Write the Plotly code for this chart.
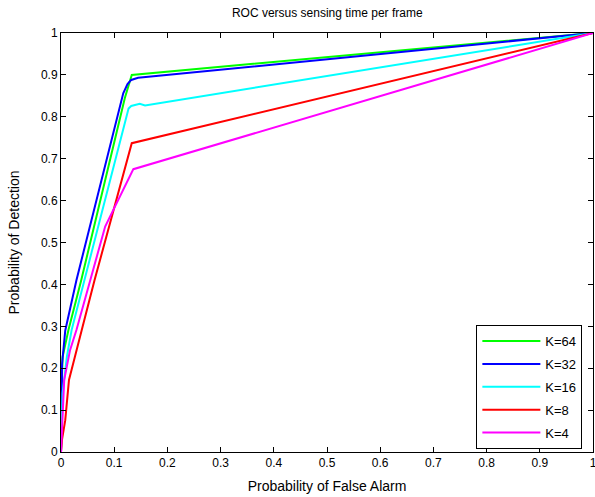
import plotly.graph_objects as go

labels = ["K=64", "K=32", "K=16", "K=8", "K=4"]
colors = ["#00ff00", "#0000ff", "#00ffff", "#ff0000", "#ff00ff"]

pf_k64 = [0, 0.001, 0.003, 0.014, 0.038, 0.120, 0.133, 1.0]
pd_k64 = [0, 0.15, 0.227, 0.291, 0.41, 0.845, 0.900, 1.0]

pf_k32 = [0, 0.001, 0.002, 0.008, 0.029, 0.117, 0.125, 0.132, 0.145, 1.0]
pd_k32 = [0, 0.13, 0.21, 0.29, 0.41, 0.856, 0.878, 0.888, 0.893, 1.0]

pf_k16 = [0, 0.003, 0.011, 0.020, 0.044, 0.127, 0.132, 0.148, 0.158, 1.0]
pd_k16 = [0, 0.14, 0.227, 0.291, 0.41, 0.820, 0.826, 0.831, 0.827, 1.0]

pf_k8 = [0, 0.002, 0.008, 0.015, 0.039, 0.063, 0.133, 1.0]
pd_k8 = [0, 0.03, 0.076, 0.172, 0.291, 0.41, 0.737, 1.0]

pf_k4 = [0, 0.003, 0.006, 0.017, 0.029, 0.055, 0.083, 0.136, 1.0]
pd_k4 = [0, 0.10, 0.172, 0.243, 0.291, 0.41, 0.538, 0.675, 1.0]

series_x = [pf_k64, pf_k32, pf_k16, pf_k8, pf_k4]
series_y = [pd_k64, pd_k32, pd_k16, pd_k8, pd_k4]

tick_vals = [0, 0.1, 0.2, 0.3, 0.4, 0.5, 0.6, 0.7, 0.8, 0.9, 1]
tick_text = ["0", "0.1", "0.2", "0.3", "0.4", "0.5", "0.6", "0.7", "0.8", "0.9", "1"]

fig = go.Figure()
for lab, col, xs, ys in zip(labels, colors, series_x, series_y):
    fig.add_trace(go.Scatter(x=xs, y=ys, mode="lines", name=lab,
                             legendgroup=lab,
                             line=dict(color=col, width=2)))

font = dict(family="Liberation Sans, Arial, sans-serif", size=12, color="#000000")
axis_common = dict(
    showline=True, linecolor="#000000", linewidth=1, mirror="ticks",
    ticks="inside", ticklen=5, tickcolor="#000000", showgrid=False,
    zeroline=False, tickvals=tick_vals, ticktext=tick_text,
    tickfont=font, automargin=False, ticklabeloverflow="allow",
)
fig.update_layout(
    width=595, height=497,
    margin=dict(l=61, r=2, t=33, b=45, autoexpand=False),
    paper_bgcolor="white", plot_bgcolor="white",
    font=font,
    title=dict(text="ROC versus sensing time per frame", x=0.55, xanchor="center",
               y=1 - 13 / 497, yanchor="middle", font=dict(size=12)),
    xaxis=dict(range=[0, 1], title=dict(text="Probability of False Alarm", standoff=11), **axis_common),
    yaxis=dict(range=[0, 1], title=dict(text="Probability of Detection", standoff=18), **axis_common),
    legend=dict(x=0.98, y=0.303, xanchor="right", yanchor="top",
                bordercolor="#000000", borderwidth=1, bgcolor="white",
                font=dict(size=13), tracegroupgap=3, itemwidth=58),
    showlegend=True,
)
fig.write_html("out.html", config={"displayModeBar": False},
               post_script="document.body.style.margin='0';document.body.style.overflow='hidden';")
